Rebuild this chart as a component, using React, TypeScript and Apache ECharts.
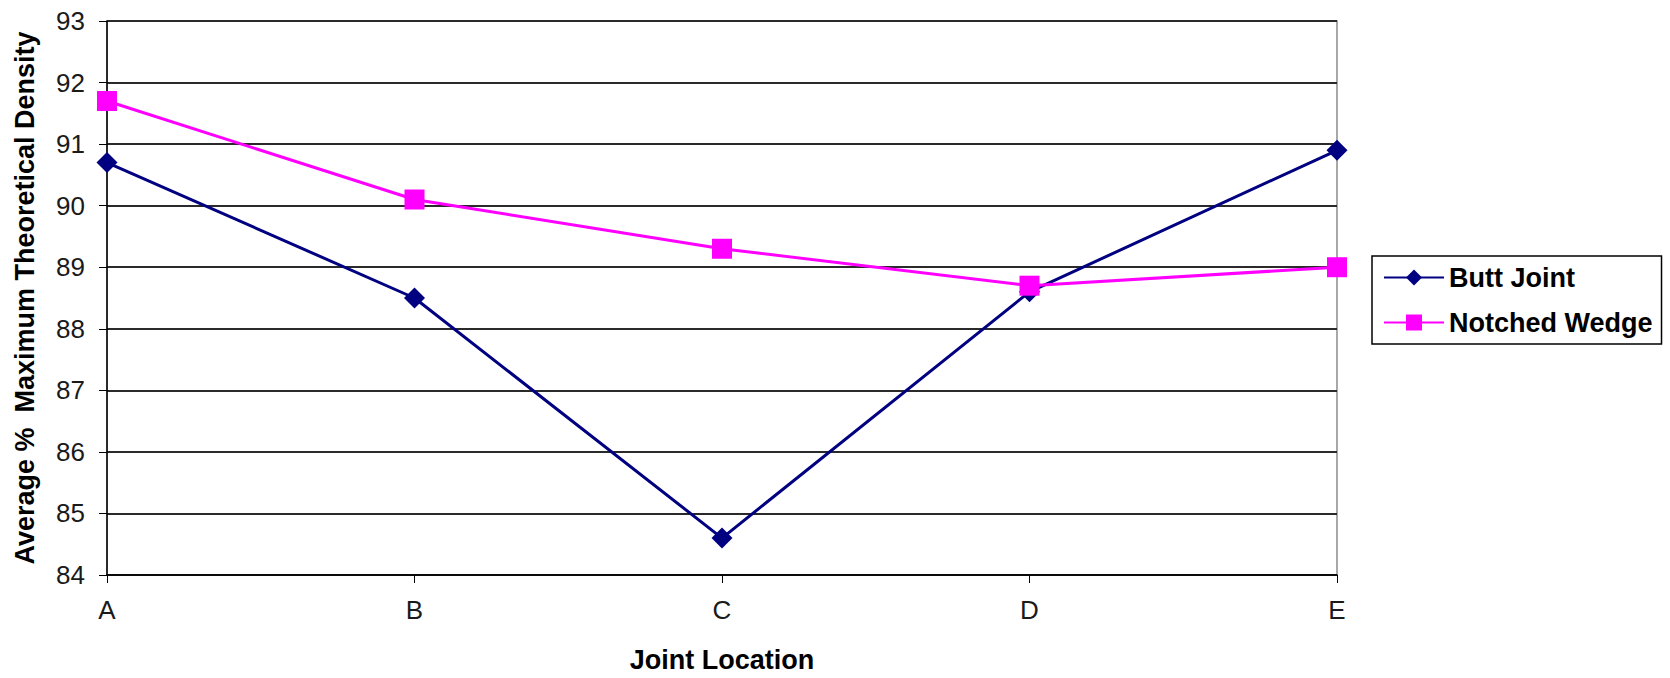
import React, { useEffect, useRef } from "react";
import * as echarts from "echarts";

const categories = ["A", "B", "C", "D", "E"];
const buttJoint = [90.7, 88.5, 84.6, 88.6, 90.9];
const notchedWedge = [91.7, 90.1, 89.3, 88.7, 89.0];
const yMin = 84;
const yMax = 93;
const yStep = 1;

export default function App() {
  const ref = useRef<HTMLDivElement>(null);
  useEffect(() => {
    document.body.style.margin = "0";
    const chart = echarts.init(ref.current!, undefined, { renderer: "svg" });
    const font = "Arial, 'Liberation Sans', sans-serif";
    chart.setOption({
      animation: false,
      backgroundColor: "#ffffff",
      grid: {
        left: 107,
        right: 333,
        top: 21,
        bottom: 98,
        show: true,
        borderColor: "#8c8c8c",
        borderWidth: 1.5,
      },
      legend: {
        orient: "vertical",
        left: 1372,
        top: 256,
        padding: [8, 9, 8, 11],
        itemGap: 18,
        itemWidth: 60,
        itemHeight: 20,
        borderColor: "#000",
        borderWidth: 1.5,
        textStyle: { fontFamily: font, fontSize: 27, lineHeight: 26, fontWeight: "bold", color: "#000" },
        data: ["Butt Joint", "Notched Wedge"],
      },
      xAxis: {
        type: "category",
        data: categories,
        boundaryGap: false,
        name: "Joint Location",
        nameLocation: "middle",
        nameGap: 71,
        nameTextStyle: { fontFamily: font, fontSize: 27, fontWeight: "bold", color: "#000" },
        axisLine: { lineStyle: { color: "#000", width: 1.5 } },
        axisTick: { show: true, inside: false, length: 8, lineStyle: { color: "#000" } },
        axisLabel: { fontFamily: font, fontSize: 26, color: "#1a1a1a", margin: 22 },
        splitLine: { show: false },
      },
      yAxis: {
        type: "value",
        min: yMin,
        max: yMax,
        interval: yStep,
        name: "Average %  Maximum Theoretical Density",
        nameLocation: "middle",
        nameGap: 69,
        nameTextStyle: { fontFamily: font, fontSize: 27, fontWeight: "bold", color: "#000" },
        axisLine: { show: true, lineStyle: { color: "#000", width: 1.5 } },
        axisTick: { show: true, inside: false, length: 8, lineStyle: { color: "#000" } },
        axisLabel: { fontFamily: font, fontSize: 26, color: "#1a1a1a", margin: 22 },
        splitLine: { show: true, lineStyle: { color: "#2a2a2a", width: 1.8 } },
      },
      series: [
        {
          name: "Butt Joint",
          type: "line",
          data: buttJoint,
          symbol: "diamond",
          symbolSize: 21,
          lineStyle: { color: "#000080", width: 3 },
          itemStyle: { color: "#000080" },
        },
        {
          name: "Notched Wedge",
          type: "line",
          data: notchedWedge,
          symbol: "rect",
          symbolSize: 20,
          lineStyle: { color: "#ff00ff", width: 3 },
          itemStyle: { color: "#ff00ff" },
        },
      ],
    });
    return () => chart.dispose();
  }, []);
  return <div ref={ref} style={{ width: 1670, height: 678 }} />;
}
